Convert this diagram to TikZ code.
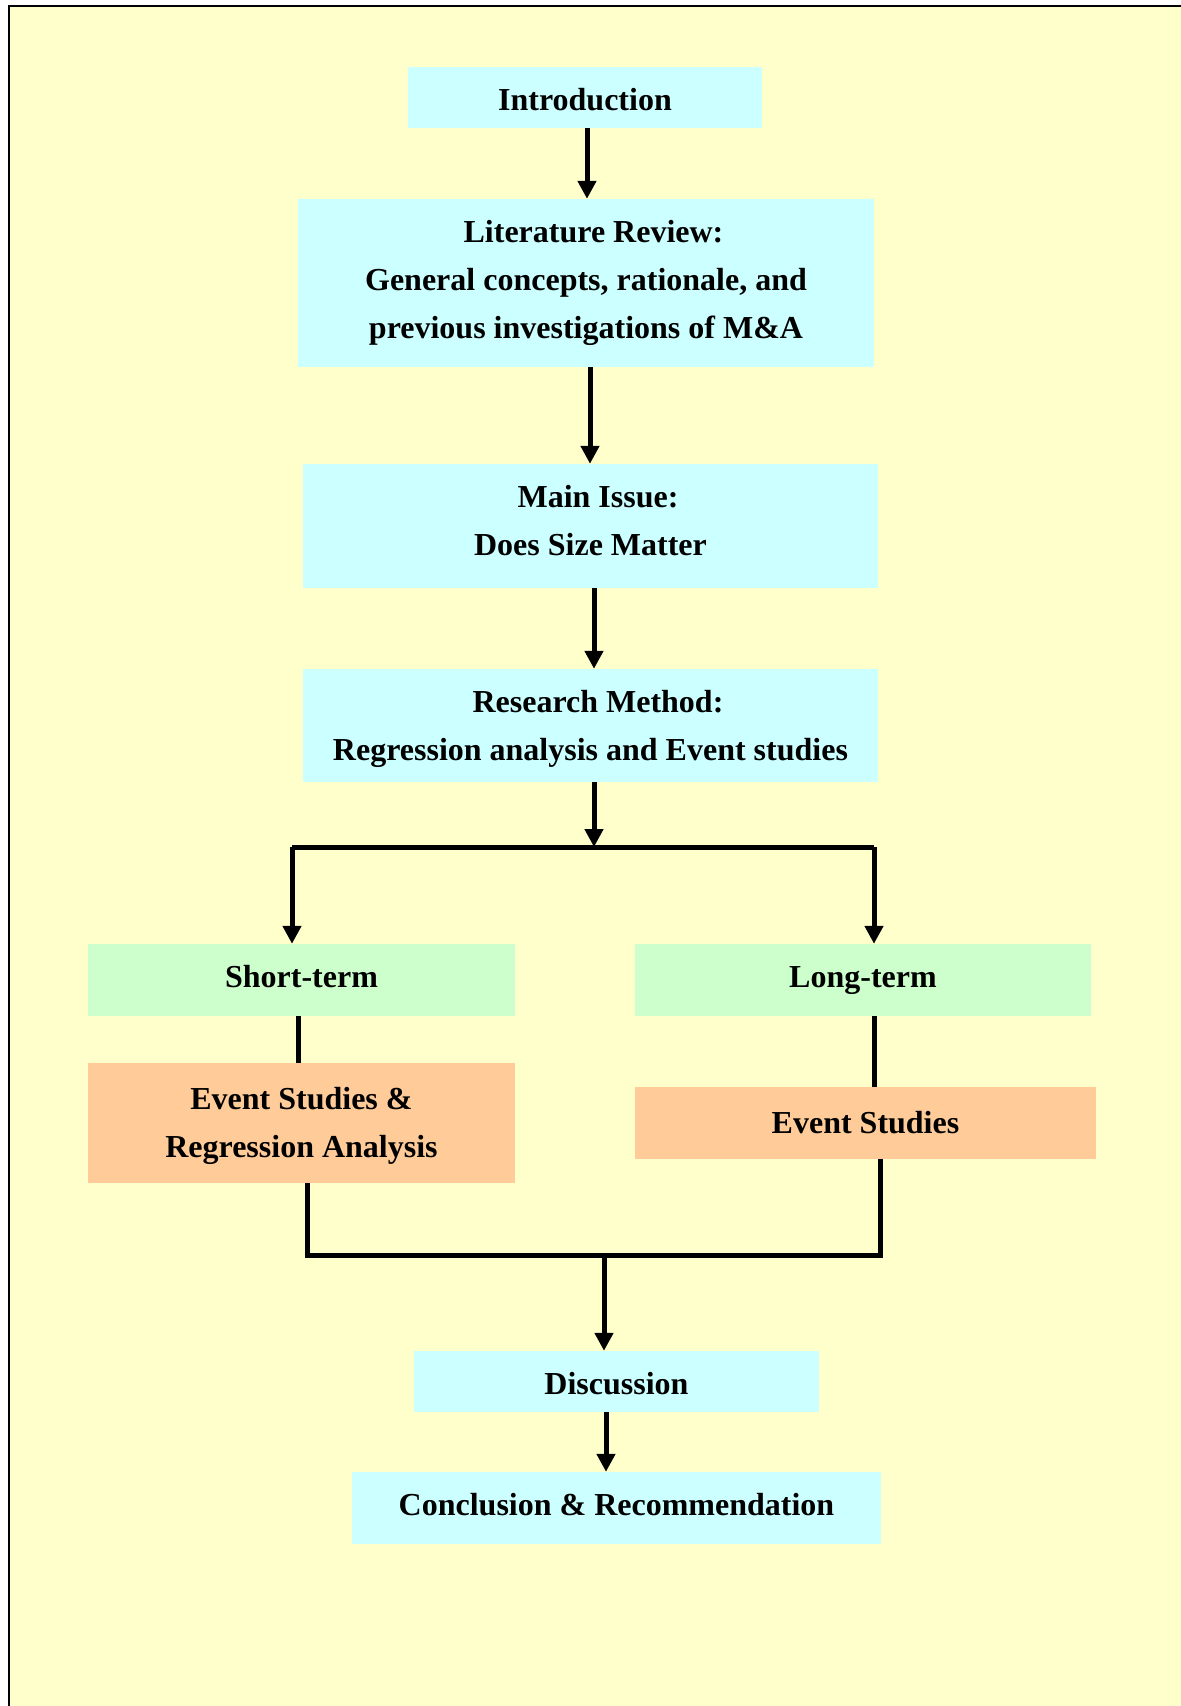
\documentclass[tikz,border=0pt]{standalone}
\usepackage{fontspec}
\setmainfont{Liberation Serif}
\usetikzlibrary{arrows.meta}
\definecolor{bgyellow}{HTML}{FFFFCC}
\definecolor{boxcyan}{HTML}{CCFFFF}
\definecolor{boxgreen}{HTML}{CCFFCC}
\definecolor{boxorange}{HTML}{FFCC99}
\newcommand{\boxtext}[4][43pt]{\parbox[c][#3][t]{#2}{\centering\rule{0pt}{#1}#4}}
\tikzset{
  box/.style={rectangle, inner sep=0pt, anchor=center,
    font=\fontsize{32}{48}\selectfont\bfseries},
  cyanbox/.style={box, fill=boxcyan},
  greenbox/.style={box, fill=boxgreen},
  orangebox/.style={box, fill=boxorange},
  conn/.style={line width=5pt, line join=miter, draw=black},
  arr/.style={conn, -{Triangle[width=18pt,length=18pt]}}
}
\begin{document}
\begin{tikzpicture}[x=1pt,y=-1pt]
\useasboundingbox (0,0) rectangle (1181,1706);
\fill[white] (0,0) rectangle (1181,1706);
\fill[bgyellow] (9,6) rectangle (1181,1706);
\draw[line width=2.5pt] (9,1706) -- (9,6) -- (1181,6);

\node[cyanbox] (intro) at (585,97.5) {\boxtext{354pt}{61pt}{Introduction}};
\node[cyanbox] (lit) at (586,283) {\boxtext{576pt}{168pt}{\hspace*{15pt}Literature Review:\\General concepts, rationale, and\\previous investigations of M\&A}};
\node[cyanbox] (main) at (590.5,526) {\boxtext{575pt}{124pt}{\hspace*{15pt}Main Issue:\\Does Size Matter}};
\node[cyanbox] (meth) at (590.5,725.5) {\boxtext{575pt}{113pt}{\hspace*{15pt}Research Method:\\Regression analysis and Event studies}};
\node[greenbox] (short) at (301.5,980) {\boxtext{427pt}{72pt}{Short-term}};
\node[greenbox] (long) at (863,980) {\boxtext{456pt}{72pt}{Long-term}};
\node[orangebox] (es1) at (301.5,1123) {\boxtext[46pt]{427pt}{120pt}{Event Studies \&\\Regression Analysis}};
\node[orangebox] (es2) at (865.5,1123) {\boxtext[46pt]{461pt}{72pt}{Event Studies}};
\node[cyanbox] (disc) at (616.5,1381.5) {\boxtext{405pt}{61pt}{Discussion}};
\node[cyanbox] (concl) at (616.5,1508) {\boxtext{529pt}{72pt}{Conclusion \& Recommendation}};

\coordinate (split) at (594,847);
\coordinate (splitL) at (292,847);
\coordinate (splitR) at (874,847);
\coordinate (joinL) at (307,1255);
\coordinate (joinR) at (880,1255);
\coordinate (join) at (604,1255);

\draw[arr] ([xshift=2pt]intro.south) -- ([xshift=2pt]intro.south |- lit.north);
\draw[arr] ([xshift=4pt]lit.south) -- ([xshift=4pt]lit.south |- main.north);
\draw[arr] ([xshift=3.5pt]main.south) -- ([xshift=3.5pt]main.south |- meth.north);
\draw[arr] (split |- meth.south) -- (split);
\draw[conn] (splitL) -- (splitR);
\draw[arr] (splitL) -- (splitL |- short.north);
\draw[arr] (splitR) -- (splitR |- long.north);
\draw[conn] ([xshift=-3.5pt]short.south) -- ([xshift=-3.5pt]short.south |- es1.north);
\draw[conn] (splitR |- long.south) -- (splitR |- es2.north);
\draw[conn] (joinL |- es1.south) -- (joinL) -- (joinR) -- (joinR |- es2.south);
\draw[arr] (join) -- (join |- disc.north);
\draw[arr] ([xshift=-10.5pt]disc.south) -- ([xshift=-10.5pt]disc.south |- concl.north);
\end{tikzpicture}
\end{document}
